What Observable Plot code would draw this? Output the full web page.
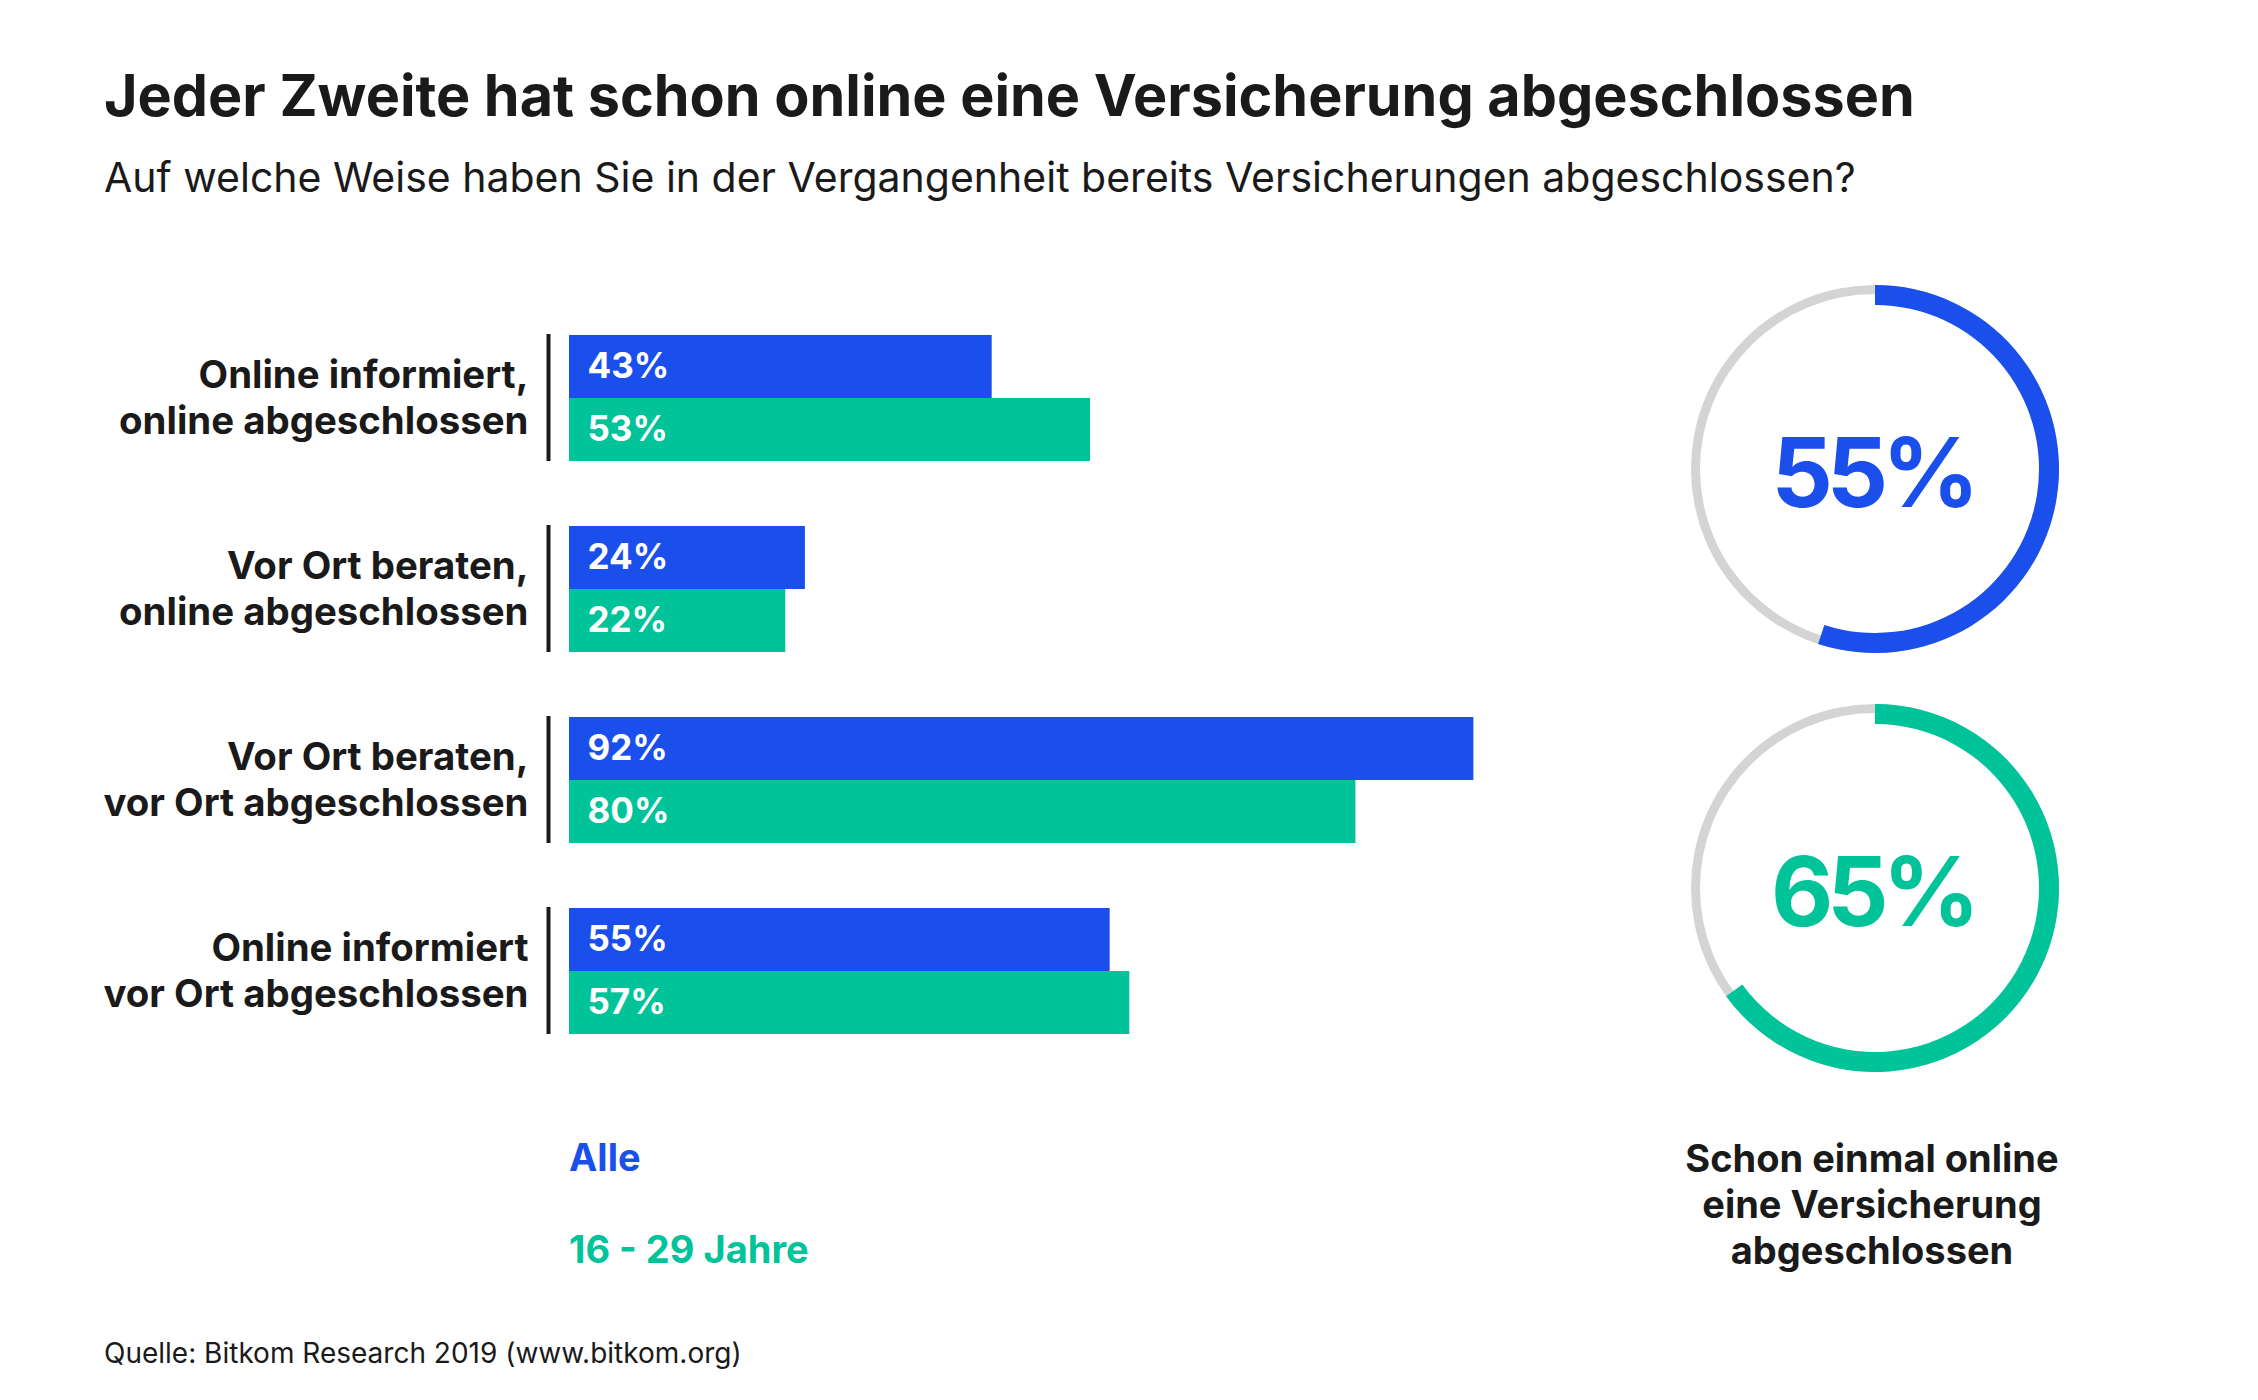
<!DOCTYPE html>
<html>
<head>
<meta charset="utf-8">
<script src="https://cdn.jsdelivr.net/npm/d3@7"></script>
<script src="https://cdn.jsdelivr.net/npm/@observablehq/plot@0.6"></script>
<style>
  html, body { margin: 0; padding: 0; background: #fff; }
  #page { position: relative; width: 2258px; height: 1400px; background: #fff; font-family: Inter, "Open Sans", sans-serif; color: #1a1a1a; overflow: hidden; }
  .t { position: absolute; white-space: nowrap; line-height: 1; }
</style>
</head>
<body>
<div id="page">
  <div class="t" id="title" style="left:104px; top:67px; font-size:57.5px; font-weight:700;">Jeder Zweite hat schon online eine Versicherung abgeschlossen</div>
  <div class="t" id="subtitle" style="left:104px; top:157px; font-size:41px; font-weight:400;">Auf welche Weise haben Sie in der Vergangenheit bereits Versicherungen abgeschlossen?</div>
  <div id="bars" style="position:absolute; left:0; top:300px;"></div>
  <div id="donut1" style="position:absolute; left:1675px; top:269px;"></div>
  <div id="donut2" style="position:absolute; left:1675px; top:688px;"></div>
  <div id="legend"></div>
  <div class="t" id="caption" style="left:1622px; width:500px; top:1135px; font-size:38px; font-weight:700; text-align:center; line-height:46px; white-space:normal;"></div>
  <div class="t" id="source" style="left:104px; top:1339px; font-size:28px; font-weight:400;">Quelle: Bitkom Research 2019 (www.bitkom.org)</div>
</div>
<script>
// ---- data ----
const categories = [
  "Online informiert,\nonline abgeschlossen",
  "Vor Ort beraten,\nonline abgeschlossen",
  "Vor Ort beraten,\nvor Ort abgeschlossen",
  "Online informiert\nvor Ort abgeschlossen"
];
const seriesNames = ["Alle", "16 - 29 Jahre"];
const valuesAlle = [43, 24, 92, 55];
const valuesJung = [53, 22, 80, 57];
const donutValues = [55, 65];
const donutCaption = ["Schon einmal online", "eine Versicherung", "abgeschlossen"];
const colors = ["#1b4fec", "#00c39a"];
const ringGray = "#d4d4d4";

const rows = [];
categories.forEach((c, i) => {
  rows.push({cat: c, series: seriesNames[0], value: valuesAlle[i]});
  rows.push({cat: c, series: seriesNames[1], value: valuesJung[i]});
});

// ---- bar chart ----
const bars = Plot.plot({
  width: 1560,
  height: 734,
  marginLeft: 569,
  marginRight: 8,
  marginTop: 33,
  marginBottom: 0,
  style: {fontFamily: "Inter, 'Open Sans', sans-serif", background: "transparent"},
  x: {domain: [0, 100], axis: null},
  y: {domain: seriesNames, axis: null, padding: 0},
  fy: {domain: categories, axis: null, paddingInner: 0.337, paddingOuter: 0},
  color: {domain: seriesNames, range: colors},
  marks: [
    Plot.barX(rows, {x: "value", y: "series", fy: "cat", fill: "series"}),
    Plot.text(rows, {x: 0, y: "series", fy: "cat", text: d => d.value + "%", dx: 18, textAnchor: "start",
      fill: "white", fontSize: 35, fontWeight: 700}),
    Plot.ruleX(categories, {x: 0, fy: d => d, dx: -21, stroke: "#1a1a1a", strokeWidth: 4}),
    Plot.text(categories, {fy: d => d, text: d => d, frameAnchor: "left", dx: -41, dy: -2, textAnchor: "end",
      fontSize: 38.4, fontWeight: 700, lineHeight: 1.2, fill: "#1a1a1a"})
  ]
});
document.getElementById("bars").appendChild(bars);

// ---- donuts ----
const angle = Plot.scale({x: {type: "linear", domain: [0, 100], range: [0, 2 * Math.PI]}});
function donut(value, color) {
  return Plot.plot({
    width: 400, height: 400, margin: 0,
    style: {fontFamily: "Inter, 'Open Sans', sans-serif", background: "transparent", letterSpacing: "-6px"},
    x: {domain: [0, 1], axis: null},
    y: {domain: [0, 1], axis: null},
    marks: [
      (index, scales, values, dims) => {
        const g = d3.create("svg:g")
          .attr("transform", `translate(${dims.width / 2},${dims.height / 2})`);
        g.append("path")
          .attr("d", d3.arc()({innerRadius: 175, outerRadius: 184, startAngle: 0, endAngle: angle.apply(100)}))
          .attr("fill", ringGray);
        g.append("path")
          .attr("d", d3.arc()({innerRadius: 164, outerRadius: 184, startAngle: 0, endAngle: angle.apply(value)}))
          .attr("fill", color);
        return g.node();
      },
      Plot.text([value], {text: d => d + "%", frameAnchor: "middle", dx: -3, dy: 7, fontSize: 96, fontWeight: 700, fill: color})
    ]
  });
}
document.getElementById("donut1").appendChild(donut(donutValues[0], colors[0]));
document.getElementById("donut2").appendChild(donut(donutValues[1], colors[1]));

// ---- legend ----
const legend = document.getElementById("legend");
seriesNames.forEach((s, i) => {
  const d = document.createElement("div");
  d.className = "t";
  d.style.left = "569px";
  d.style.top = (1138 + i * 92) + "px";
  d.style.fontSize = "38px";
  d.style.fontWeight = "700";
  d.style.color = colors[i];
  d.textContent = s;
  legend.appendChild(d);
});

// ---- caption ----
document.getElementById("caption").innerHTML = donutCaption.join("<br>");
</script>
</body>
</html>
